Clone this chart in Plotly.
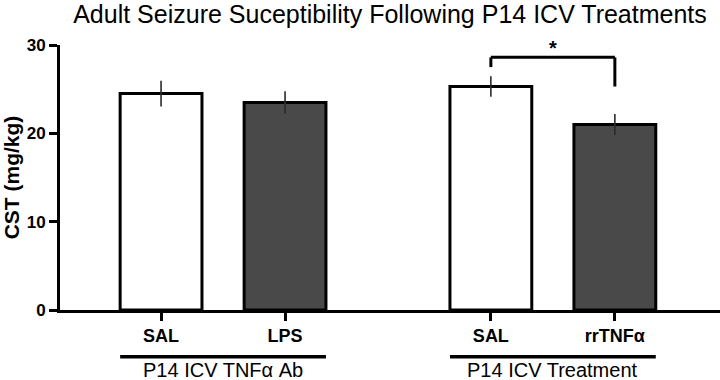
import plotly.graph_objects as go

# ---- data ----
categories = ["SAL", "LPS", "SAL", "rrTNFα"]
groups = ["P14 ICV TNFα Ab", "P14 ICV Treatment"]
group_of_bar = [0, 0, 1, 1]
cst_mean = [24.5, 23.5, 25.3, 21.0]
cst_sem = [1.45, 1.25, 1.15, 1.2]
fill_colors = ["#ffffff", "#494949", "#ffffff", "#494949"]
y_tick_vals = [0, 10, 20, 30]
title_text = "Adult Seizure Suceptibility Following P14 ICV Treatments"

# ---- layout positions ----
group_gap = 1.66
positions = []
for i, g in enumerate(group_of_bar):
    within = i - group_of_bar.index(g)
    positions.append(g * (1 + group_gap) + within)

FONT = "Liberation Sans, Arial, sans-serif"

fig = go.Figure()
fig.add_trace(go.Bar(
    x=positions, y=cst_mean, width=0.66,
    marker=dict(color=fill_colors, line=dict(color="black", width=3)),
    error_y=dict(type="data", array=cst_sem, visible=True, width=0,
                 thickness=1.6, color="#2a2a2a"),
    showlegend=False,
))

# significance bracket between bars 3 and 4
b_left, b_right = positions[2], positions[3]
bracket_y = 28.6
left_leg_end = 27.5
right_leg_end = 25.3
fig.add_shape(type="line", xref="x", yref="y", x0=b_left, x1=b_right,
              y0=bracket_y, y1=bracket_y, line=dict(color="black", width=3))
fig.add_shape(type="line", xref="x", yref="y", x0=b_left, x1=b_left,
              y0=bracket_y, y1=left_leg_end, line=dict(color="black", width=3))
fig.add_shape(type="line", xref="x", yref="y", x0=b_right, x1=b_right,
              y0=bracket_y, y1=right_leg_end, line=dict(color="black", width=3))
fig.add_annotation(x=(b_left + b_right) / 2, y=bracket_y, xref="x", yref="y",
                   text="<b>*</b>", showarrow=False, yanchor="bottom",
                   font=dict(size=20, color="black", family=FONT), yshift=-4)

# group lines and labels
for gi, gname in enumerate(groups):
    xs = [p for p, g in zip(positions, group_of_bar) if g == gi]
    c = sum(xs) / len(xs)
    fig.add_shape(type="line", xref="x", yref="paper",
                  x0=c - 0.83, x1=c + 0.83, y0=-0.176, y1=-0.176,
                  line=dict(color="black", width=3.5))
    fig.add_annotation(x=c, y=-0.228, xref="x", yref="paper", text=gname,
                       showarrow=False, yanchor="middle",
                       font=dict(size=20, color="black", family=FONT))

fig.update_layout(
    width=720, height=380,
    margin=dict(l=60, r=0, t=45, b=70),
    plot_bgcolor="white", paper_bgcolor="white",
    title=dict(text=title_text, x=0.5, xref="paper", xanchor="center",
               y=1 - 14 / 380, yref="container", yanchor="middle",
               font=dict(size=25, color="black", family=FONT)),
    font=dict(family=FONT, color="black"),
    xaxis=dict(range=[-0.815, 4.508], tickvals=positions,
               ticktext=["<b>%s</b>" % c for c in categories],
               tickfont=dict(size=18, family=FONT, color="black"),
               ticks="outside", ticklen=8, tickwidth=3, tickcolor="black",
               ticklabelstandoff=-1,
               showline=True, linewidth=3, linecolor="black",
               showgrid=False, zeroline=False),
    yaxis=dict(range=[0, 30], tickvals=y_tick_vals,
               ticktext=["<b>%d</b>" % v for v in y_tick_vals],
               tickfont=dict(size=17, family=FONT, color="black"),
               ticks="outside", ticklen=8, tickwidth=3, tickcolor="black",
               showline=True, linewidth=3, linecolor="black",
               showgrid=False, zeroline=False,
               title=dict(text="<b>CST (mg/kg)</b>", standoff=6,
                          font=dict(size=21, family=FONT, color="black"))),
)

fig.write_html("out.html", config={"displayModeBar": False},
               post_script="document.body.style.margin='0';document.body.style.padding='0';")
